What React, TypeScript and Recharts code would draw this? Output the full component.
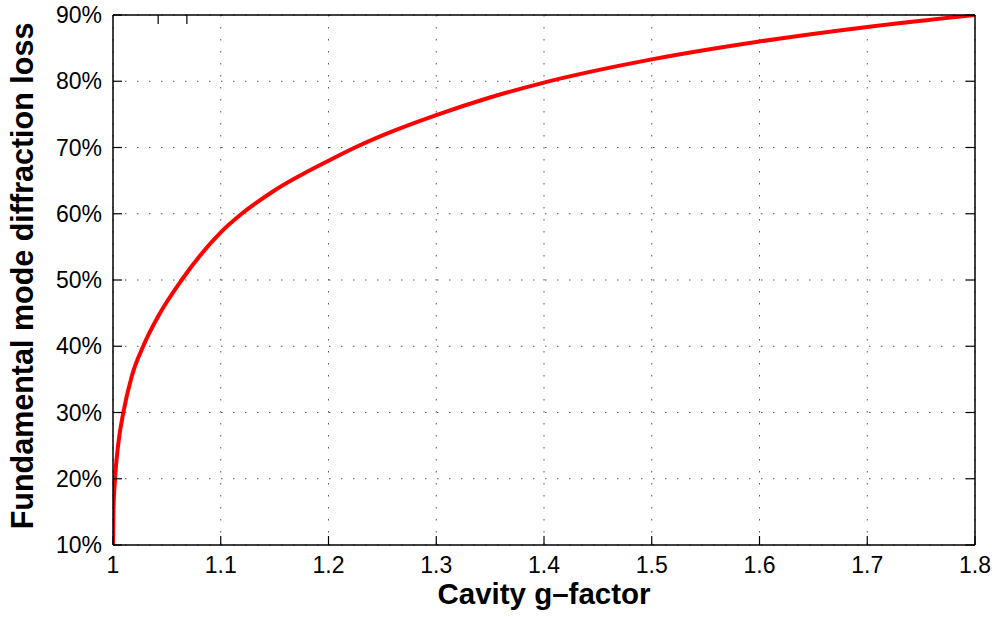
import React from "react";
import { LineChart, Line, XAxis, YAxis, CartesianGrid, Label } from "recharts";

// cavity g-factor vs fundamental mode diffraction loss (%)
const gFactor = [
  1.0, 1.0004, 1.0019, 1.005, 1.0096, 1.0173, 1.028, 1.0436, 1.0637, 1.1,
  1.1194, 1.1488, 1.2, 1.2246, 1.254, 1.3, 1.3468, 1.4, 1.5, 1.6, 1.7, 1.8,
];
const lossPct = [
  10, 15, 20, 25.4, 30, 35.4, 40, 45, 50, 57.2,
  60, 63.4, 68, 70, 72.1, 74.9, 77.4, 79.8, 83.3, 86, 88.2, 90,
];

const xTicks = [1, 1.1, 1.2, 1.3, 1.4, 1.5, 1.6, 1.7, 1.8];
const yTicks = [10, 20, 30, 40, 50, 60, 70, 80, 90];

const data = gFactor.map((g, i) => ({ g, loss: lossPct[i] }));

const FONT = "'Liberation Sans', Arial, Helvetica, sans-serif";
const TICK_LEN = 9;
const axisLine = { stroke: "#000", strokeWidth: 1.5 };

// MATLAB-style ticks: short marks pointing into the plot box
const BottomTick = (props: any) => {
  const { x, y, payload } = props;
  return (
    <g>
      <path d={`M${x},${y}L${x},${y - TICK_LEN}`} stroke="#000" strokeWidth={1.2} fill="none" />
      <text x={x} y={y + 28} textAnchor="middle" fontFamily={FONT} fontSize={23} fill="#000">
        {payload.value}
      </text>
    </g>
  );
};

const LeftTick = (props: any) => {
  const { x, y, payload } = props;
  return (
    <g>
      <path d={`M${x},${y}L${x + TICK_LEN},${y}`} stroke="#000" strokeWidth={1.2} fill="none" />
      <text x={x - 11} y={y + 8} textAnchor="end" fontFamily={FONT} fontSize={23} fill="#000">
        {`${payload.value}%`}
      </text>
    </g>
  );
};

const TopTick = (props: any) => {
  const { x, y } = props;
  return <path d={`M${x},${y}L${x},${y + TICK_LEN}`} stroke="#000" strokeWidth={1.2} fill="none" />;
};

const RightTick = (props: any) => {
  const { x, y } = props;
  return <path d={`M${x},${y}L${x - TICK_LEN},${y}`} stroke="#000" strokeWidth={1.2} fill="none" />;
};

export default function App() {
  return (
    <div style={{ position: "absolute", left: 0, top: 0, width: 999, height: 617, background: "#fff" }}>
      <LineChart width={999} height={617} data={data} margin={{ top: 14, right: 23, bottom: 0, left: 0 }}>
        <CartesianGrid stroke="#555" strokeDasharray="1.5 10.5" />
        <XAxis
          dataKey="g"
          type="number"
          domain={[1, 1.8]}
          ticks={xTicks}
          allowDataOverflow
          height={72}
          tickSize={0}
          tickMargin={0}
          tickLine={false}
          tick={BottomTick}
          axisLine={axisLine}
        >
          <Label
            content={() => (
              <text x={544} y={604} textAnchor="middle" fontFamily={FONT} fontWeight="bold" fontSize={29.5} fill="#000">
                Cavity g–factor
              </text>
            )}
          />
        </XAxis>
        <XAxis
          xAxisId="top"
          orientation="top"
          type="number"
          domain={[1, 1.8]}
          ticks={xTicks}
          allowDataOverflow
          height={1}
          tickSize={0}
          tickMargin={0}
          tickLine={false}
          tick={TopTick}
          axisLine={axisLine}
        />
        <YAxis
          type="number"
          domain={[10, 90]}
          ticks={yTicks}
          allowDataOverflow
          width={113}
          tickSize={0}
          tickMargin={0}
          tickLine={false}
          tick={LeftTick}
          axisLine={axisLine}
        >
          <Label
            content={() => (
              <text
                x={33}
                y={276}
                transform="rotate(-90 33 276)"
                textAnchor="middle"
                fontFamily={FONT}
                fontWeight="bold"
                fontSize={30.5}
                fill="#000"
              >
                Fundamental mode diffraction loss
              </text>
            )}
          />
        </YAxis>
        <YAxis
          yAxisId="right"
          orientation="right"
          type="number"
          domain={[10, 90]}
          ticks={yTicks}
          allowDataOverflow
          width={1}
          tickSize={0}
          tickMargin={0}
          tickLine={false}
          tick={RightTick}
          axisLine={axisLine}
        />
        <Line
          type="monotone"
          dataKey="loss"
          stroke="#ff0000"
          strokeWidth={4}
          dot={false}
          isAnimationActive={false}
        />
      </LineChart>
    </div>
  );
}
